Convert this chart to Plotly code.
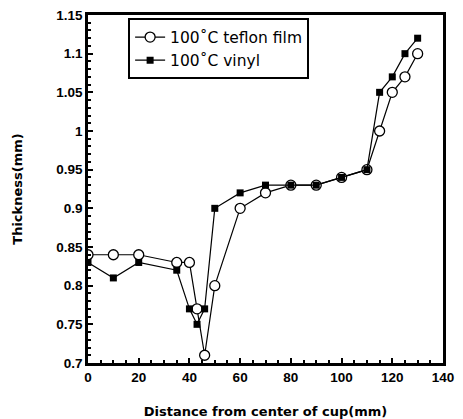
import plotly.graph_objects as go

x_teflon = [0, 10, 20, 35, 40, 43, 46, 50, 60, 70, 80, 90, 100, 110, 115, 120, 125, 130]
y_teflon = [0.84, 0.84, 0.84, 0.83, 0.83, 0.77, 0.71, 0.80, 0.90, 0.92, 0.93, 0.93, 0.94, 0.95, 1.00, 1.05, 1.07, 1.10]
x_vinyl = [0, 10, 20, 35, 40, 43, 46, 50, 60, 70, 80, 90, 100, 110, 115, 120, 125, 130]
y_vinyl = [0.83, 0.81, 0.83, 0.82, 0.77, 0.75, 0.77, 0.90, 0.92, 0.93, 0.93, 0.93, 0.94, 0.95, 1.05, 1.07, 1.10, 1.12]

names = ["100˚C teflon film", "100˚C vinyl"]

fig = go.Figure()
fig.add_trace(go.Scatter(
    x=x_teflon, y=y_teflon, name=names[0], mode="lines+markers",
    line=dict(color="black", width=1.2),
    marker=dict(symbol="circle", size=10, color="white", line=dict(color="black", width=1.3)),
))
fig.add_trace(go.Scatter(
    x=x_vinyl, y=y_vinyl, name=names[1], mode="lines+markers",
    line=dict(color="black", width=1.2),
    marker=dict(symbol="square", size=7, color="black"),
))

fig.update_layout(
    width=463, height=419,
    margin=dict(l=88, r=20, t=15, b=56),
    paper_bgcolor="white", plot_bgcolor="white",
    showlegend=True,
    legend=dict(
        x=0.113, y=0.99, xanchor="left", yanchor="top",
        bgcolor="white", bordercolor="black", borderwidth=2,
        font=dict(family="DejaVu Sans", size=15.5, color="black"),
        traceorder="normal", tracegroupgap=0,
        itemwidth=30,
    ),
    xaxis=dict(
        range=[0, 140], dtick=20, tick0=0, automargin=False,
        showgrid=False, zeroline=False,
        showline=True, linecolor="black", linewidth=2.5, mirror=True,
        ticks="inside", ticklen=5, tickcolor="black", tickwidth=1.5,
        minor=dict(dtick=5, ticks="inside", ticklen=3, tickcolor="black"),
        tickfont=dict(family="Liberation Sans", size=13.5, color="black"),
        title=dict(text="<b>Distance from center of cup(mm)</b>",
                   font=dict(family="DejaVu Sans", size=13, color="black"), standoff=23),
    ),
    yaxis=dict(
        range=[0.7, 1.15], dtick=0.05, tick0=0.7, automargin=False,
        showgrid=False, zeroline=False,
        showline=True, linecolor="black", linewidth=2.5, mirror=True,
        ticks="inside", ticklen=5, tickcolor="black", tickwidth=1.5,
        minor=dict(dtick=0.01, ticks="inside", ticklen=3, tickcolor="black"),
        tickfont=dict(family="Liberation Sans", size=13.5, color="black"),
        title=dict(text="<b>Thickness(mm)</b>",
                   font=dict(family="DejaVu Sans", size=13, color="black"), standoff=31),
    ),
)
fig.update_xaxes(tickprefix="<b>", ticksuffix="</b>")
fig.update_yaxes(tickprefix="<b>", ticksuffix="</b>")

fig.write_html("out.html")
